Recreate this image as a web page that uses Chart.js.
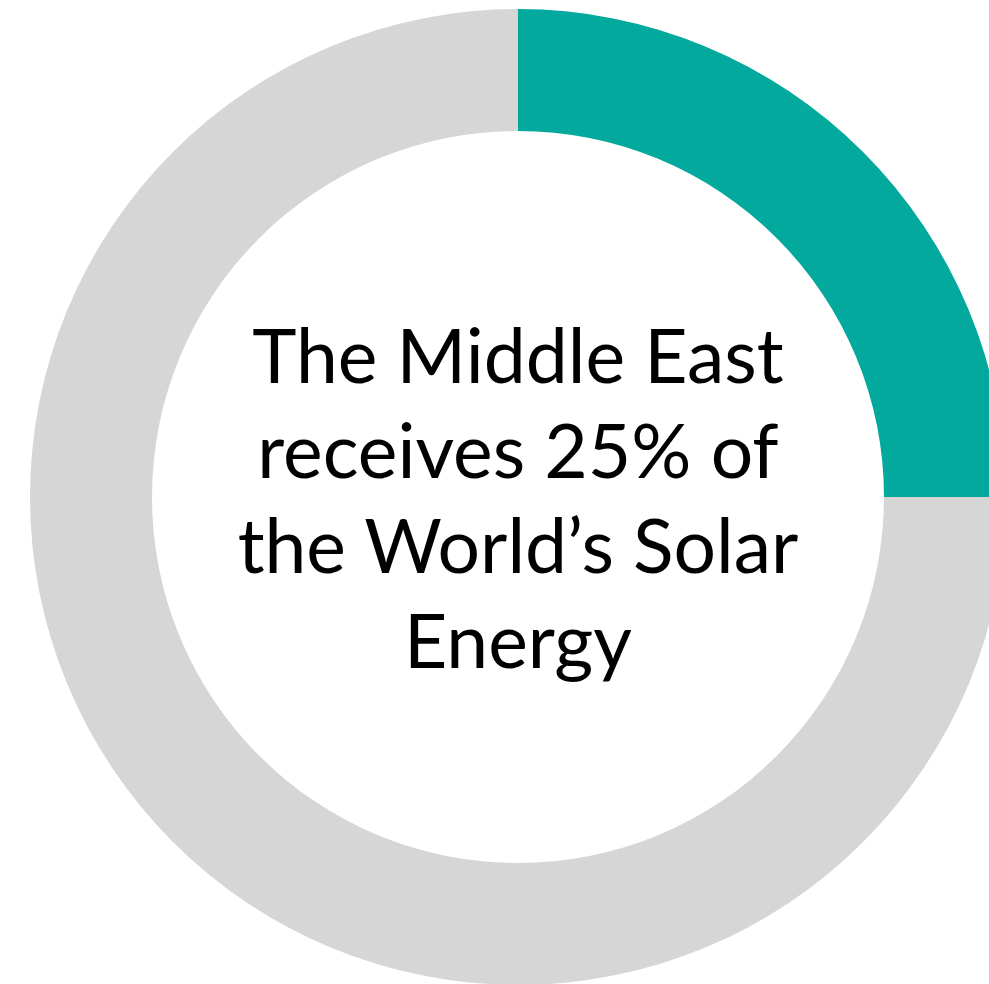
<!DOCTYPE html>
<html>
<head>
<meta charset="utf-8">
<script src="https://cdn.jsdelivr.net/npm/chart.js@4"></script>
<style>
  html, body { margin: 0; padding: 0; background: #fff; overflow: hidden; width: 989px; height: 984px; }
  #wrap { position: absolute; left: 30px; top: 9px; width: 976px; height: 976px; }
  #center-text {
    position: absolute; left: 518px; top: 497px; transform: translate(-50%, -50%);
    width: 700px; text-align: center;
    font-family: "Lato", "DejaVu Sans", sans-serif; font-size: 75px; line-height: 95px;
    color: #000; margin-top: 0px;
  }
</style>
</head>
<body>
<div id="wrap"><canvas id="donut-chart"></canvas></div>
<div id="center-text">The Middle East<br>receives 25% of<br>the World’s Solar<br>Energy</div>
<script>
const labels = ['Middle East', 'Rest of World'];
const shares = [25, 75];
const colors = ['#04A99D', '#D6D6D6'];

var ctx = document.getElementById("donut-chart");

const config = {
  type: 'doughnut',
  data: {
    labels: labels,
    datasets: [{
      data: shares,
      backgroundColor: colors,
      borderWidth: 0
    }]
  },
  options: {
    responsive: true,
    maintainAspectRatio: false,
    animation: false,
    cutout: '75%',
    plugins: {
      legend: { display: false },
      tooltip: { enabled: false }
    }
  }
};

var chart = new Chart(ctx, config);
</script>
</body>
</html>
